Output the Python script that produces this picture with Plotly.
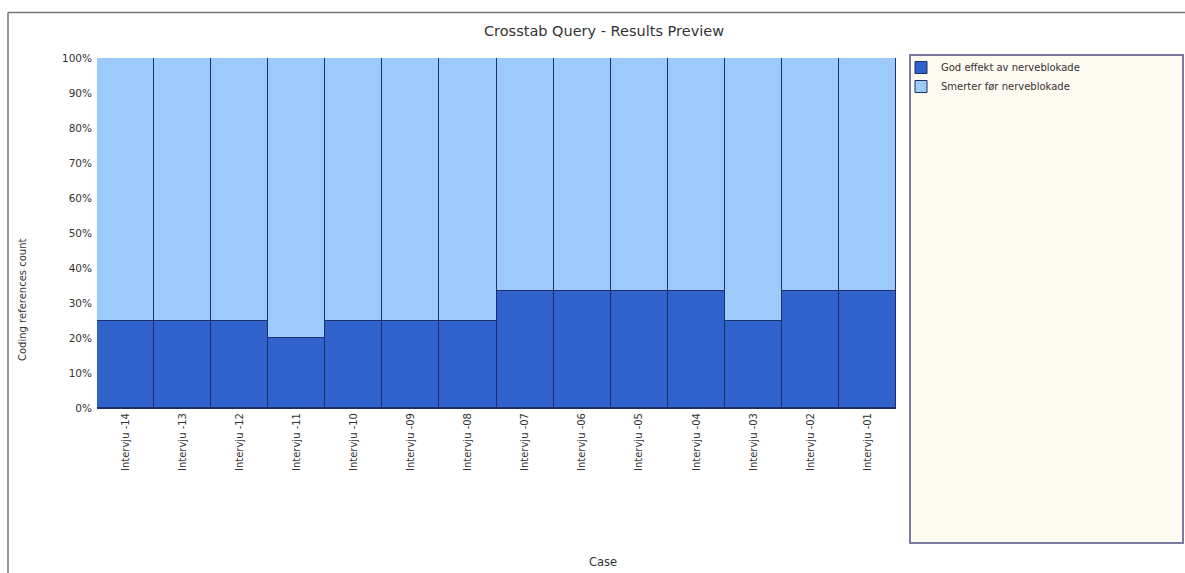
import plotly.graph_objects as go

# Cases (interviews) in display order
cases = ["Intervju -14", "Intervju -13", "Intervju -12", "Intervju -11", "Intervju -10",
         "Intervju -09", "Intervju -08", "Intervju -07", "Intervju -06", "Intervju -05",
         "Intervju -04", "Intervju -03", "Intervju -02", "Intervju -01"]

# Coding reference counts per node
god_effekt = [1, 1, 1, 1, 1, 1, 1, 1, 1, 1, 1, 1, 1, 1]
smerter = [3, 3, 3, 4, 3, 3, 3, 2, 2, 2, 2, 3, 2, 2]

series_names = ["God effekt av nerveblokade", "Smerter før nerveblokade"]
series_colors = ["#3062cb", "#9ccbfb"]

W, H = 1185, 573
L, R, T, B = 97, 896, 58, 408  # plot area in pixels


def px(x):
    return (x - L) / (R - L)


def py(y):
    return (B - y) / (B - T)


fig = go.Figure()
for name, vals, col in zip(series_names, [god_effekt, smerter], series_colors):
    fig.add_trace(go.Bar(
        x=cases, y=vals, name=name,
        marker=dict(color=col, line=dict(color="#1c2f66", width=1)),
    ))

font_family = "DejaVu Sans, Verdana, sans-serif"
txt = "#333333"

fig.update_layout(
    width=W, height=H,
    margin=dict(l=L, r=W - R, t=T, b=H - B),
    barmode="stack", barnorm="percent", bargap=0,
    plot_bgcolor="white", paper_bgcolor="white",
    font=dict(family=font_family, size=10, color=txt),
    title=dict(text="Crosstab Query - Results Preview", x=604 / W, xanchor="center",
               y=1 - 31 / H, yanchor="middle", font=dict(size=14.5, color=txt)),
    xaxis=dict(tickangle=-90, showgrid=False, ticks="", showline=True,
               linecolor="#1c2f66", linewidth=1, tickfont=dict(size=10, color=txt)),
    yaxis=dict(range=[0, 100], dtick=10, ticksuffix="%", showgrid=False, ticks="",
               showline=False, zeroline=False, ticklabelstandoff=4,
               tickfont=dict(size=10.5, color=txt)),
    legend=dict(x=px(901), y=py(53), xanchor="left", yanchor="top",
                bgcolor="rgba(0,0,0,0)", traceorder="normal",
                font=dict(size=10, color="#3a3030"), itemwidth=30,
                tracegroupgap=0),
    showlegend=True,
)

# Legend panel
fig.add_shape(type="rect", xref="paper", yref="paper",
              x0=px(910), x1=px(1183), y0=py(543), y1=py(55),
              line=dict(color="#7a7a9e", width=2), fillcolor="#fdfaf2", layer="below")

# Outer frame (top and left edges)
fig.add_shape(type="line", xref="paper", yref="paper",
              x0=px(8), x1=px(W), y0=py(12.5), y1=py(12.5),
              line=dict(color="#777777", width=1.5))
fig.add_shape(type="line", xref="paper", yref="paper",
              x0=px(8), x1=px(8), y0=py(12.5), y1=py(H),
              line=dict(color="#777777", width=1.5))

# Axis titles
fig.add_annotation(text="Coding references count", xref="paper", yref="paper",
                   x=px(22), y=py(300), xanchor="center", yanchor="middle",
                   textangle=-90, showarrow=False,
                   font=dict(size=10, color=txt))
fig.add_annotation(text="Case", xref="paper", yref="paper",
                   x=px(603), y=py(562), xanchor="center", yanchor="middle",
                   showarrow=False, font=dict(size=11.5, color=txt))

fig.write_html("out.html")
